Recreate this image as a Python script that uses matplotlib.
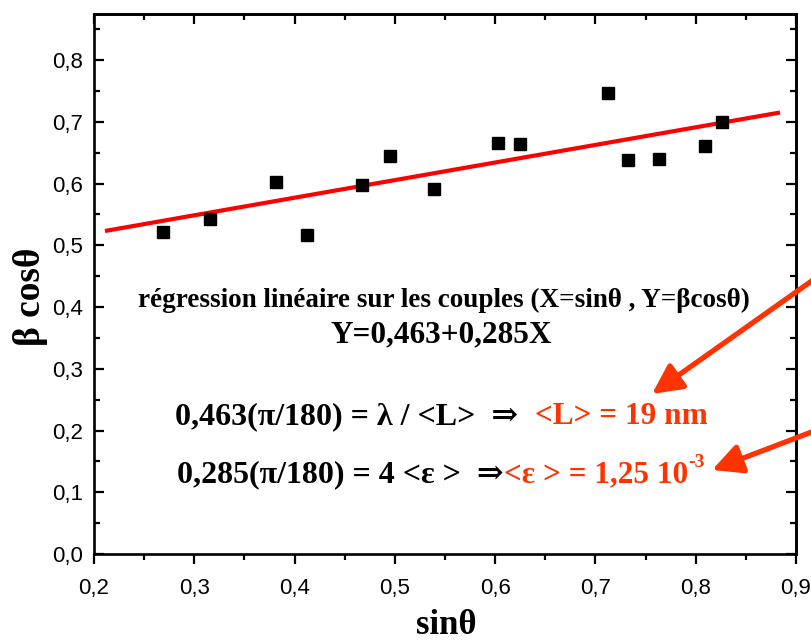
import matplotlib
matplotlib.use("Agg")
import matplotlib.pyplot as plt
import numpy as np

# ---- data ----
sin_theta = [0.269, 0.316, 0.381, 0.412, 0.467, 0.495, 0.539, 0.6025, 0.625,
             0.713, 0.732, 0.763, 0.809, 0.826]
beta_cos = [0.522, 0.543, 0.603, 0.517, 0.598, 0.645, 0.591, 0.666, 0.664,
            0.747, 0.638, 0.640, 0.660, 0.699]
fit_intercept = 0.463
fit_slope = 0.285
fit_x_range = [0.213, 0.882]
x_ticks = [0.2, 0.3, 0.4, 0.5, 0.6, 0.7, 0.8, 0.9]
y_ticks = [0.0, 0.1, 0.2, 0.3, 0.4, 0.5, 0.6, 0.7, 0.8]

RED = "#ff0000"
ORANGE = "#ff3300"
SERIF = ["Liberation Serif", "DejaVu Serif"]
SANS = ["Liberation Sans", "DejaVu Sans"]

fig = plt.figure(figsize=(8.12, 6.44), dpi=100)
ax = fig.add_axes([94/812, 90/644, 702/812, 540/644])

ax.plot(sin_theta, beta_cos, linestyle="none", marker="s", markersize=8.5,
        color="black", zorder=3)
fx = np.array(fit_x_range)
ax.plot(fx, fit_intercept + fit_slope * fx, color=RED, lw=3, zorder=2)

ax.set_xlim(0.2, 0.9)
ax.set_ylim(0.0, 0.8745)
ax.set_xticks(x_ticks)
ax.set_yticks(y_ticks)
ax.set_xticklabels([f"{v:.1f}".replace(".", ",") for v in x_ticks],
                   family=SANS, fontsize=16)
ax.set_yticklabels([f"{v:.1f}".replace(".", ",") for v in y_ticks],
                   family=SANS, fontsize=16)
ax.set_xticks(np.arange(0.25, 0.9, 0.1), minor=True)
ax.set_yticks(np.arange(0.05, 0.87, 0.1), minor=True)
for s in ax.spines.values():
    s.set_linewidth(1.9)
ax.tick_params(axis="x", which="both", direction="out", bottom=True, top=False,
               width=1.6, pad=10)
ax.tick_params(axis="y", which="both", direction="in", left=True, right=False,
               width=1.6, pad=8)
ax.tick_params(which="major", length=7)
ax.tick_params(which="minor", length=4.5)

# inward ticks on top/right
sec_x = ax.secondary_xaxis("top")
sec_x.set_xticks(x_ticks)
sec_x.set_xticks(np.arange(0.25, 0.9, 0.1), minor=True)
sec_x.tick_params(which="both", direction="in", labeltop=False, width=1.6)
sec_x.tick_params(which="major", length=7)
sec_x.tick_params(which="minor", length=4.5)
sec_x.spines["top"].set_linewidth(1.9)
sec_y = ax.secondary_yaxis("right")
sec_y.set_yticks(y_ticks)
sec_y.set_yticks(np.arange(0.05, 0.87, 0.1), minor=True)
sec_y.tick_params(which="both", direction="in", labelright=False, width=1.6)
sec_y.tick_params(which="major", length=7)
sec_y.tick_params(which="minor", length=4.5)
sec_y.spines["right"].set_linewidth(1.9)

ax.set_xlabel("sinθ", family=SERIF, fontweight="bold", fontsize=25)
ax.xaxis.set_label_coords(0.502, -0.149, transform=ax.transAxes)
ax.xaxis.label.set_va("baseline")
ax.set_ylabel("β cosθ", family=SERIF, fontweight="bold", fontsize=27)
ax.yaxis.set_label_coords(-0.09, 0.476, transform=ax.transAxes)
ax.yaxis.label.set_va("center")

# ---- annotations ----
ax.text(0.4986, 0.470, "régression linéaire sur les couples (X=sinθ , Y=βcosθ)",
        transform=ax.transAxes, ha="center", va="center", family=SERIF,
        fontweight="bold", fontsize=19.5)
ax.text(0.494, 0.4056, "Y=0,463+0,285X", transform=ax.transAxes, ha="center",
        va="center", family=SERIF, fontweight="bold", fontsize=22.5)

fig.canvas.draw()
renderer = fig.canvas.get_renderer()


def put(x, y, txt, col, size):
    return ax.text(x, y, txt, transform=ax.transAxes, ha="left",
                   va="baseline", family=SERIF, fontweight="bold",
                   fontsize=size, color=col)


put(0.1154, 0.240, "0,463(π/180) = λ / <L>  ⇒", "black", 23)
put(0.628, 0.240, "<L> = 19 nm", ORANGE, 22.5)
put(0.118, 0.133, "0,285(π/180) = 4 <ε >  ⇒", "black", 23)
t = put(0.584, 0.133, "<ε > = 1,25 10", ORANGE, 22.5)
bb = t.get_window_extent(renderer)
xe = ax.transAxes.inverted().transform((bb.x1, bb.y1))[0]
put(xe, 0.162, "-3", ORANGE, 14)

arrow_kw = dict(arrowstyle="-|>,head_length=0.9,head_width=0.45", lw=3.8,
                color=ORANGE, shrinkA=0, shrinkB=0, mutation_scale=20)
fig.patches.append(matplotlib.patches.FancyArrowPatch(
    (830, 376), (652, 250), transform=None, **arrow_kw))
fig.patches.append(matplotlib.patches.FancyArrowPatch(
    (830, 219), (712, 174), transform=None, **arrow_kw))

fig.savefig("out.png", dpi=100)
